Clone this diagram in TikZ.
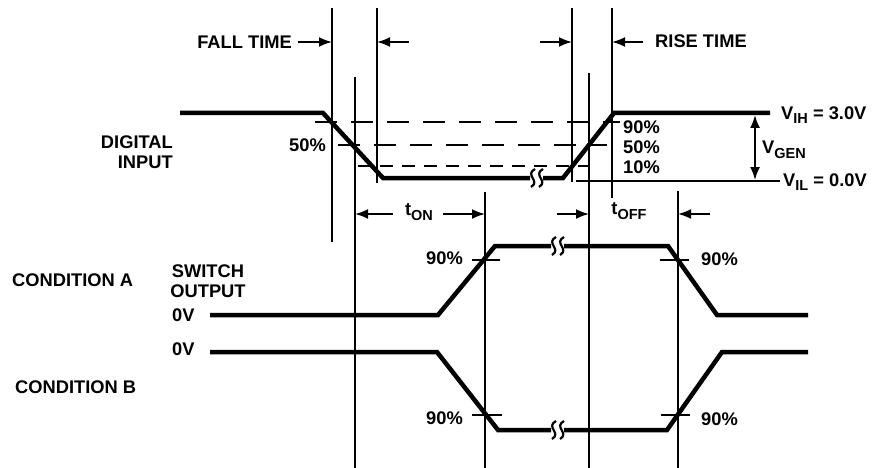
\documentclass[tikz,border=0pt]{standalone}
\usepackage{fontspec}
\setmainfont{Liberation Sans}
\usetikzlibrary{arrows.meta}
\newcommand{\sbs}[1]{\raisebox{-4.5pt}{\fontsize{14.5}{16}\selectfont #1}}
\tikzset{
  thinl/.style={line width=1.8pt},
  wave/.style={line width=4.5pt},
  lbl/.style={font=\bfseries\fontsize{18.3}{19.5}\selectfont, inner sep=0pt},
  arr/.style={thinl, -{Latex[length=13pt,width=10pt]}},
  dlong/.style={thinl, dash pattern=on 22pt off 14pt},
  dshort/.style={thinl, dash pattern=on 13pt off 9pt},
  brk/.pic={
    \draw[line width=2.2pt] (-2,-9) .. controls (-13,-3) and (4,3) .. (-6,9);
    \draw[line width=2.2pt] (6,-9) .. controls (-5,-3) and (12,3) .. (2,9);
  }
}
\begin{document}
\begin{tikzpicture}[x=1pt,y=-1pt]
\useasboundingbox (0,0) rectangle (878,468);
% vertical reference lines
\coordinate (a1) at (332,8);   \coordinate (a2) at (332,242);
\coordinate (b1) at (355,77);  \coordinate (b2) at (355,468);
\coordinate (c1) at (377,8);   \coordinate (c2) at (377,183);
\coordinate (d1) at (485,192); \coordinate (d2) at (485,468);
\coordinate (e1) at (572,8);   \coordinate (e2) at (572,182);
\coordinate (f1) at (589,73);  \coordinate (f2) at (589,468);
\coordinate (g1) at (612,8);   \coordinate (g2) at (612,198);
\coordinate (h1) at (678,191); \coordinate (h2) at (678,468);
\foreach \p in {a,b,c,d,e,f,g,h} \draw[thinl] (\p1) -- (\p2);
% dashed levels
\draw[dlong] (315,122) -- (620,122);
\draw[dlong] (338,145) -- (607,145);
\draw[dshort] (358,166) -- (588,166);
% V_IL line
\draw[thinl] (576,181) -- (780,181);
% digital input waveform
\draw[wave] (180,113) -- (323,113) -- (383,178) -- (530,178);
\pic at (537,178) {brk};
\draw[wave] (543,178) -- (563,178) -- (614,113) -- (770,113);
% VGEN arrow
\draw[thinl, {Latex[length=13pt,width=10pt]}-{Latex[length=13pt,width=10pt]}] (755,115) -- (755,180);
% rise/fall arrows
\node[lbl, anchor=east] (fall) at (292,42) {FALL TIME};
\coordinate (fa) at (298,42); \coordinate (fb) at (332,42);
\draw[arr] (fa) -- (fb);
\coordinate (ca) at (409,42); \coordinate (cb) at (377,42);
\draw[arr] (ca) -- (cb);
\coordinate (ea) at (540,42); \coordinate (eb) at (572,42);
\draw[arr] (ea) -- (eb);
\coordinate (ga) at (643,42); \coordinate (gb) at (612,42);
\draw[arr] (ga) -- (gb);
\node[lbl, anchor=west] (rise) at (655,41) {RISE TIME};
% labels digital input
\node[lbl, anchor=east, align=right] (din) at (173,152) {DIGITAL\\INPUT};
\node[lbl, anchor=east] (p50l) at (326,145) {50\%};
\node[lbl, anchor=west] (p90r) at (623,127) {90\%};
\node[lbl, anchor=west] (p50r) at (623,147) {50\%};
\node[lbl, anchor=west] (p10r) at (623,167) {10\%};
\node[lbl, anchor=west] (vih) at (781,115) {V\sbs{IH} = 3.0V};
\node[lbl, anchor=west] (vgen) at (762,150) {V\sbs{GEN}};
\node[lbl, anchor=west] (vil) at (783,182) {V\sbs{IL} = 0.0V};
% tON / tOFF
\coordinate (ona) at (393,214); \coordinate (onb) at (355,214);
\draw[arr] (ona) -- (onb);
\node[lbl] (ton) at (419,212) {t\sbs{ON}};
\coordinate (onc) at (443,214); \coordinate (ond) at (485,214);
\draw[arr] (onc) -- (ond);
\coordinate (ofa) at (557,214); \coordinate (ofb) at (589,214);
\draw[arr] (ofa) -- (ofb);
\node[lbl] (toff) at (629,211) {t\sbs{OFF}};
\coordinate (ofc) at (710,214); \coordinate (ofd) at (678,214);
\draw[arr] (ofc) -- (ofd);
% condition A waveform
\draw[wave] (210,315) -- (438,315) -- (495,246) -- (551,246);
\pic at (558,246) {brk};
\draw[wave] (564,246) -- (668,246) -- (717,315) -- (808,315);
% condition B waveform
\draw[wave] (210,352) -- (437,352) -- (498,430) -- (551,430);
\pic at (558,430) {brk};
\draw[wave] (564,430) -- (667,430) -- (722,352) -- (808,352);
% 90% ticks
\draw[thinl] (472,260) -- (500,260);
\draw[thinl] (660,260) -- (689,260);
\draw[thinl] (472,415) -- (502,415);
\draw[thinl] (661,415) -- (690,415);
\node[lbl, anchor=east] (a90l) at (463,258) {90\%};
\node[lbl, anchor=west] (a90r) at (701,259) {90\%};
\node[lbl, anchor=east] (b90l) at (463,418) {90\%};
\node[lbl, anchor=west] (b90r) at (701,419) {90\%};
% left labels
\node[lbl, anchor=west] (conda) at (12,280) {CONDITION A};
\node[lbl, anchor=west] (condb) at (15,387) {CONDITION B};
\node[lbl, align=center] (sw) at (208,281) {SWITCH\\OUTPUT};
\node[lbl, anchor=west] (z1) at (172,315) {0V};
\node[lbl, anchor=west] (z2) at (172,349) {0V};
\end{tikzpicture}
\end{document}
